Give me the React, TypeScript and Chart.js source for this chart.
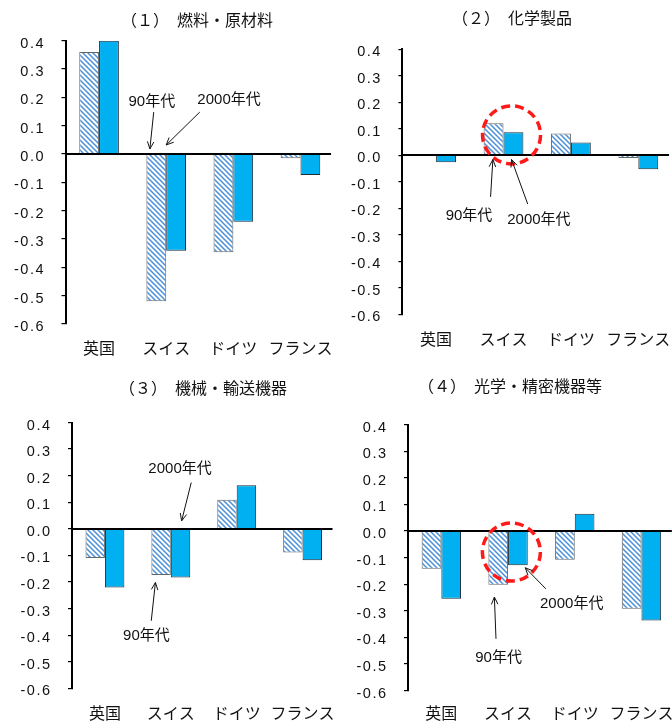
import React, { useEffect, useRef } from "react";
import { Chart, registerables } from "chart.js";

Chart.register(...registerables);

// ---------- data ----------
const categories = ["英国", "スイス", "ドイツ", "フランス"];
const yMin = -0.6;
const yMax = 0.4;
const yStep = 0.1;

const titles = [
  "（１）　燃料・原材料",
  "（２）　化学製品",
  "（３）　機械・輸送機器",
  "（４）　光学・精密機器等",
];

const seriesNames = ["90年代", "2000年代"];

const fuel90 = [0.36, -0.52, -0.347, -0.015];
const fuel2000 = [0.4, -0.341, -0.239, -0.074];

const chem90 = [-0.003, 0.121, 0.082, -0.01];
const chem2000 = [-0.026, 0.087, 0.048, -0.053];

const mach90 = [-0.11, -0.174, 0.109, -0.089];
const mach2000 = [-0.221, -0.183, 0.164, -0.118];

const opt90 = [-0.142, -0.202, -0.108, -0.292];
const opt2000 = [-0.254, -0.129, 0.065, -0.336];

// annotations in data space (category index, value)
type Note =
  | { kind: "text"; text: string; x: number; y: number }
  | { kind: "arrow"; x1: number; y1: number; x2: number; y2: number }
  | { kind: "circle"; x: number; y: number; r: number };

const notes1: Note[] = [
  { kind: "text", text: "90年代", x: 0.786, y: 0.184 },
  { kind: "arrow", x1: 0.814, y1: 0.148, x2: 0.757, y2: 0.018 },
  { kind: "text", text: "2000年代", x: 1.936, y: 0.19 },
  { kind: "arrow", x1: 1.5, y1: 0.148, x2: 1.0, y2: 0.032 },
];
const notes2: Note[] = [
  { kind: "circle", x: 1.119, y: 0.077, r: 29 },
  { kind: "text", text: "90年代", x: 0.488, y: -0.229 },
  { kind: "arrow", x1: 0.808, y1: -0.157, x2: 0.842, y2: -0.016 },
  { kind: "text", text: "2000年代", x: 1.525, y: -0.244 },
  { kind: "arrow", x1: 1.359, y1: -0.184, x2: 1.119, y2: -0.016 },
];
const notes3: Note[] = [
  { kind: "text", text: "2000年代", x: 1.14, y: 0.226 },
  { kind: "arrow", x1: 1.31, y1: 0.174, x2: 1.164, y2: 0.03 },
  { kind: "text", text: "90年代", x: 0.63, y: -0.403 },
  { kind: "arrow", x1: 0.703, y1: -0.346, x2: 0.766, y2: -0.202 },
];
const notes4: Note[] = [
  { kind: "circle", x: 1.05, y: -0.079, r: 29 },
  { kind: "text", text: "90年代", x: 0.858, y: -0.475 },
  { kind: "arrow", x1: 0.819, y1: -0.405, x2: 0.795, y2: -0.248 },
  { kind: "text", text: "2000年代", x: 1.954, y: -0.272 },
  { kind: "arrow", x1: 1.566, y1: -0.217, x2: 1.257, y2: -0.138 },
];

// ---------- layout ----------
type PanelCfg = {
  title: string;
  s90: number[];
  s2000: number[];
  notes: Note[];
  box: { left: number; top: number; width: number; height: number };
  area: { left: number; right: number; top: number; bottom: number };
  titlePos: { x: number; y: number };
  labelGap: number;
};

const panels: PanelCfg[] = [
  {
    title: titles[0], s90: fuel90, s2000: fuel2000, notes: notes1,
    box: { left: 0, top: 0, width: 347, height: 362 },
    area: { left: 65.5, right: 346, top: 40.7, bottom: 324 },
    titlePos: { x: 197, y: 20 }, labelGap: 24,
  },
  {
    title: titles[1], s90: chem90, s2000: chem2000, notes: notes2,
    box: { left: 336, top: 0, width: 350, height: 362 },
    area: { left: 66.4, right: 345.5, top: 49.3, bottom: 314.3 },
    titlePos: { x: 176, y: 18 }, labelGap: 24.7,
  },
  {
    title: titles[2], s90: mach90, s2000: mach2000, notes: notes3,
    box: { left: 0, top: 362, width: 350, height: 360 },
    area: { left: 72, right: 347.5, top: 60.5, bottom: 326.3 },
    titlePos: { x: 203, y: 26 }, labelGap: 24.7,
  },
  {
    title: titles[3], s90: opt90, s2000: opt2000, notes: notes4,
    box: { left: 336, top: 362, width: 350, height: 360 },
    area: { left: 72, right: 349, top: 62.6, bottom: 328.7 },
    titlePos: { x: 174, y: 24 }, labelGap: 22,
  },
];

const CJK = "'Noto Sans CJK JP', 'Noto Sans', sans-serif";
const LAT = "'Liberation Sans', Arial, 'Noto Sans CJK JP', sans-serif";

function makeHatch(): CanvasPattern | string {
  const s = 5;
  const c = document.createElement("canvas");
  c.width = s;
  c.height = s;
  const g = c.getContext("2d");
  if (!g) return "#9cc3e6";
  g.fillStyle = "#ffffff";
  g.fillRect(0, 0, s, s);
  g.strokeStyle = "#4a90d9";
  g.lineWidth = 1.5;
  g.beginPath();
  g.moveTo(-1, -1);
  g.lineTo(s + 1, s + 1);
  g.moveTo(s - 1, -1);
  g.lineTo(s + 1, 1);
  g.moveTo(-1, s - 1);
  g.lineTo(1, s + 1);
  g.stroke();
  return g.createPattern(c, "repeat") || "#9cc3e6";
}

function drawSpaced(ctx: CanvasRenderingContext2D, text: string, rightX: number, y: number, spacing: number) {
  const chars = text.split("");
  const widths = chars.map((ch) => ctx.measureText(ch).width);
  const total = widths.reduce((a, b) => a + b, 0) + spacing * (chars.length - 1);
  let x = rightX - total;
  ctx.textAlign = "left";
  chars.forEach((ch, i) => {
    ctx.fillText(ch, x, y);
    x += widths[i] + spacing;
  });
}

function Panel({ cfg }: { cfg: PanelCfg }) {
  const ref = useRef<HTMLCanvasElement | null>(null);
  useEffect(() => {
    const canvas = ref.current;
    if (!canvas) return;
    const hatch = makeHatch();
    const { box, area } = cfg;

    const overlay = {
      id: "overlay",
      afterDatasetsDraw(chart: any) {
        const ctx = chart.ctx as CanvasRenderingContext2D;
        const ca = chart.chartArea;
        const ys = chart.scales.y;
        ctx.save();
        const y0 = Math.round(ys.getPixelForValue(0));
        ctx.strokeStyle = "#000";
        ctx.lineWidth = 2;
        ctx.beginPath();
        ctx.moveTo(ca.left, y0);
        ctx.lineTo(ca.right - 3, y0);
        ctx.stroke();
        ctx.restore();
      },
      afterDraw(chart: any) {
        const ctx = chart.ctx as CanvasRenderingContext2D;
        const ys = chart.scales.y;
        const xs = chart.scales.x;
        const ca = chart.chartArea;
        ctx.save();
        // y tick labels
        ctx.fillStyle = "#111";
        ctx.font = `14.5px ${LAT}`;
        ctx.textBaseline = "middle";
        ys.ticks.forEach((t: any) => {
          const v = t.value;
          const txt = (Math.abs(v) < 1e-9 ? 0 : v).toFixed(1);
          drawSpaced(ctx, txt, ca.left - 22, ys.getPixelForValue(v) + 3, 1.5);
        });
        // title
        ctx.font = `16px ${CJK}`;
        ctx.textAlign = "center";
        ctx.fillStyle = "#111";
        ctx.fillText(cfg.title, cfg.titlePos.x, cfg.titlePos.y);
        // annotations
        cfg.notes.forEach((n) => {
          if (n.kind === "text") {
            ctx.font = `15px ${LAT}`;
            ctx.textAlign = "center";
            ctx.textBaseline = "middle";
            ctx.fillStyle = "#111";
            ctx.fillText(n.text, xs.getPixelForValue(n.x), ys.getPixelForValue(n.y));
          } else if (n.kind === "arrow") {
            const x1 = xs.getPixelForValue(n.x1);
            const y1 = ys.getPixelForValue(n.y1);
            const x2 = xs.getPixelForValue(n.x2);
            const y2 = ys.getPixelForValue(n.y2);
            const a = Math.atan2(y2 - y1, x2 - x1);
            const L = 8;
            const w = 0.42;
            ctx.strokeStyle = "#111";
            ctx.lineWidth = 1;
            ctx.beginPath();
            ctx.moveTo(x1, y1);
            ctx.lineTo(x2, y2);
            ctx.moveTo(x2 - L * Math.cos(a - w), y2 - L * Math.sin(a - w));
            ctx.lineTo(x2, y2);
            ctx.lineTo(x2 - L * Math.cos(a + w), y2 - L * Math.sin(a + w));
            ctx.stroke();
          } else if (n.kind === "circle") {
            ctx.strokeStyle = "#ff1a1a";
            ctx.lineWidth = 3.5;
            ctx.setLineDash([9, 5]);
            ctx.beginPath();
            ctx.arc(xs.getPixelForValue(n.x), ys.getPixelForValue(n.y), n.r, 0, Math.PI * 2);
            ctx.stroke();
            ctx.setLineDash([]);
          }
        });
        ctx.restore();
      },
    };

    const chart = new Chart(canvas, {
      type: "bar",
      data: {
        labels: categories,
        datasets: [
          {
            label: seriesNames[0],
            data: cfg.s90,
            backgroundColor: hatch as any,
            borderColor: "#666666",
            borderWidth: 1,
            categoryPercentage: 0.59,
            barPercentage: 1,
          },
          {
            label: seriesNames[1],
            data: cfg.s2000,
            backgroundColor: "#00b0f0",
            borderColor: "#1f2a36",
            borderWidth: 1,
            categoryPercentage: 0.59,
            barPercentage: 1,
          },
        ],
      },
      options: {
        animation: false,
        responsive: false,
        maintainAspectRatio: false,
        devicePixelRatio: 1,
        layout: {
          padding: {
            left: 0,
            top: area.top,
            right: box.width - area.right,
            bottom: 0,
          },
        },
        plugins: {
          legend: { display: false },
          tooltip: { enabled: false },
          title: { display: false },
        },
        scales: {
          x: {
            type: "category",
            offset: true,
            grid: { display: false, drawTicks: false },
            border: { display: false },
            ticks: {
              color: "#111",
              font: { family: CJK, size: 16 },
              padding: cfg.labelGap - 9.6,
              maxRotation: 0,
              autoSkip: false,
            },
            afterFit: (s: any) => {
              s.height = box.height - area.bottom;
            },
          },
          y: {
            min: yMin,
            max: yMax,
            ticks: { stepSize: yStep, display: false },
            grid: {
              display: true,
              drawOnChartArea: false,
              drawTicks: true,
              tickLength: 4,
              tickColor: "#000",
              color: "#000",
              lineWidth: 1.2,
            },
            border: { display: true, color: "#000", width: 2 },
            afterFit: (s: any) => {
              s.width = area.left;
            },
          },
        },
      },
      plugins: [overlay],
    });
    return () => chart.destroy();
  }, [cfg]);

  return (
    <canvas
      ref={ref}
      width={cfg.box.width}
      height={cfg.box.height}
      style={{
        position: "absolute",
        left: cfg.box.left,
        top: cfg.box.top,
        width: cfg.box.width,
        height: cfg.box.height,
      }}
    />
  );
}

export default function App() {
  return (
    <div
      style={{
        position: "fixed",
        left: 0,
        top: 0,
        width: 672,
        height: 722,
        overflow: "hidden",
        background: "#fff",
      }}
    >
      {panels.map((p, i) => (
        <Panel key={i} cfg={p} />
      ))}
    </div>
  );
}
